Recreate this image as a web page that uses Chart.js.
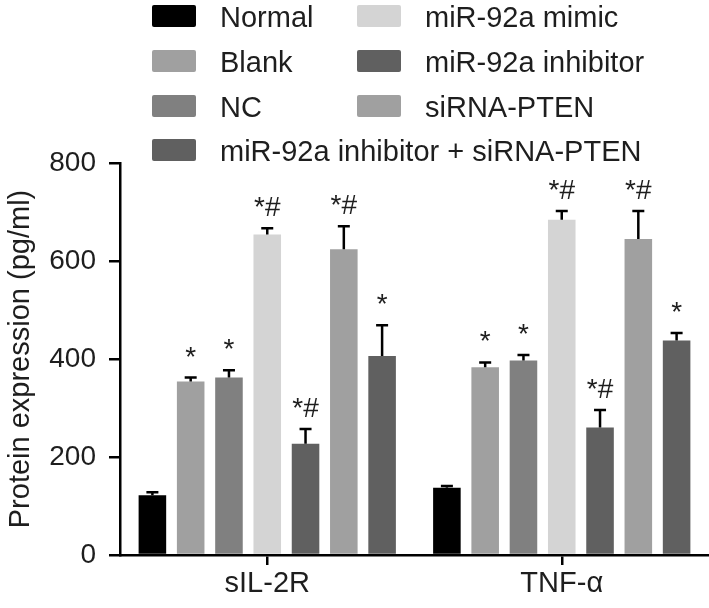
<!DOCTYPE html>
<html>
<head>
<meta charset="utf-8">
<script src="https://cdn.jsdelivr.net/npm/chart.js@4"></script>
<style>
  body { margin: 0; background: #fff; }
</style>
</head>
<body>
<canvas id="chart" width="709" height="608"></canvas>
<script>
const categories = ["sIL-2R", "TNF-\u03b1"];
const groups = ["Normal", "Blank", "NC", "miR-92a mimic", "miR-92a inhibitor", "siRNA-PTEN", "miR-92a inhibitor + siRNA-PTEN"];
const colors = ["#000000", "#a0a0a0", "#808080", "#d4d4d4", "#606060", "#a0a0a0", "#606060"];

// mean values, one array per group: [sIL-2R, TNF-a]
const normal = [122, 137];
const blank = [354, 383];
const nc = [362, 397];
const mimic = [654, 684];
const inhibitor = [227, 260];
const sirna = [624, 645];
const combined = [406, 438];

// upper error (SD)
const normalErr = [6, 4];
const blankErr = [8, 10];
const ncErr = [15, 11];
const mimicErr = [13, 18];
const inhibitorErr = [30, 36];
const sirnaErr = [47, 57];
const combinedErr = [63, 15];

// significance marks
const normalSig = ["", ""];
const blankSig = ["*", "*"];
const ncSig = ["*", "*"];
const mimicSig = ["*#", "*#"];
const inhibitorSig = ["*#", "*#"];
const sirnaSig = ["*#", "*#"];
const combinedSig = ["*", "*"];

const yTicks = [0, 200, 400, 600, 800];

const values = [normal, blank, nc, mimic, inhibitor, sirna, combined];
const errors = [normalErr, blankErr, ncErr, mimicErr, inhibitorErr, sirnaErr, combinedErr];
const marks = [normalSig, blankSig, ncSig, mimicSig, inhibitorSig, sirnaSig, combinedSig];

const FONT = "'Liberation Sans', Arial, Helvetica, sans-serif";
const TEXT = "#1e1e1e";

const errorBars = {
  id: "errorBars",
  afterDatasetsDraw(chart) {
    const ctx = chart.ctx;
    const y = chart.scales.y;
    ctx.save();
    ctx.strokeStyle = "#000";
    ctx.lineWidth = 2.5;
    ctx.fillStyle = TEXT;
    ctx.font = "28px " + FONT;
    ctx.textAlign = "center";
    ctx.textBaseline = "alphabetic";
    chart.data.datasets.forEach((ds, i) => {
      const meta = chart.getDatasetMeta(i);
      meta.data.forEach((bar, j) => {
        const top = y.getPixelForValue(values[i][j] + errors[i][j]);
        ctx.beginPath();
        ctx.moveTo(bar.x, bar.y);
        ctx.lineTo(bar.x, top);
        ctx.moveTo(bar.x - 6, top);
        ctx.lineTo(bar.x + 6, top);
        ctx.stroke();
        if (marks[i][j]) ctx.fillText(marks[i][j], bar.x, top - 12);
      });
    });
    ctx.restore();
  }
};

const gridLegend = {
  id: "gridLegend",
  afterDraw(chart) {
    const ctx = chart.ctx;
    const swatchX = [152, 357];
    const textX = [220, 425];
    const rowY = [16, 61, 106, 150];
    ctx.save();
    ctx.font = "29px " + FONT;
    ctx.textAlign = "left";
    ctx.textBaseline = "alphabetic";
    chart.data.datasets.forEach((ds, i) => {
      const col = i < 6 ? Math.floor(i / 3) : 0;
      const row = i < 6 ? i % 3 : 3;
      const cy = rowY[row];
      ctx.fillStyle = ds.backgroundColor;
      ctx.beginPath();
      ctx.roundRect(swatchX[col], cy - 11, 44, 22, 2);
      ctx.fill();
      ctx.fillStyle = TEXT;
      ctx.fillText(ds.label, textX[col], cy + 10.5);
    });
    ctx.restore();
  }
};

new Chart(document.getElementById("chart"), {
  type: "bar",
  data: {
    labels: categories,
    datasets: groups.map((g, i) => ({
      label: g,
      data: values[i],
      backgroundColor: colors[i],
      borderWidth: 0,
      categoryPercentage: 0.91,
      barPercentage: 0.72,
    })),
  },
  options: {
    responsive: false,
    animation: false,
    devicePixelRatio: 1,
    layout: { padding: { top: 163, left: 0, right: 0, bottom: 0 } },
    plugins: {
      legend: { display: false },
      tooltip: { enabled: false },
    },
    scales: {
      x: {
        afterFit: (s) => { s.height = 53; },
        grid: { offset: false, drawOnChartArea: false, tickLength: 10, lineWidth: 2.5, color: "#000" },
        border: { color: "#000", width: 2.5 },
        ticks: { color: TEXT, font: { size: 29, family: FONT }, padding: 2 },
      },
      y: {
        min: 0,
        max: 800,
        afterFit: (s) => { s.width = 120; },
        afterBuildTicks: (s) => { s.ticks = yTicks.map((v) => ({ value: v })); },
        grid: { drawOnChartArea: false, tickLength: 11, lineWidth: 2.5, color: "#000" },
        border: { color: "#000", width: 2.5 },
        ticks: { color: TEXT, font: { size: 28, family: FONT }, padding: 13 },
        title: {
          display: true,
          text: "Protein expression (pg/ml)",
          color: TEXT,
          font: { size: 29, family: FONT },
          padding: { top: 4, bottom: 0 },
        },
      },
    },
  },
  plugins: [errorBars, gridLegend],
});
</script>
</body>
</html>
